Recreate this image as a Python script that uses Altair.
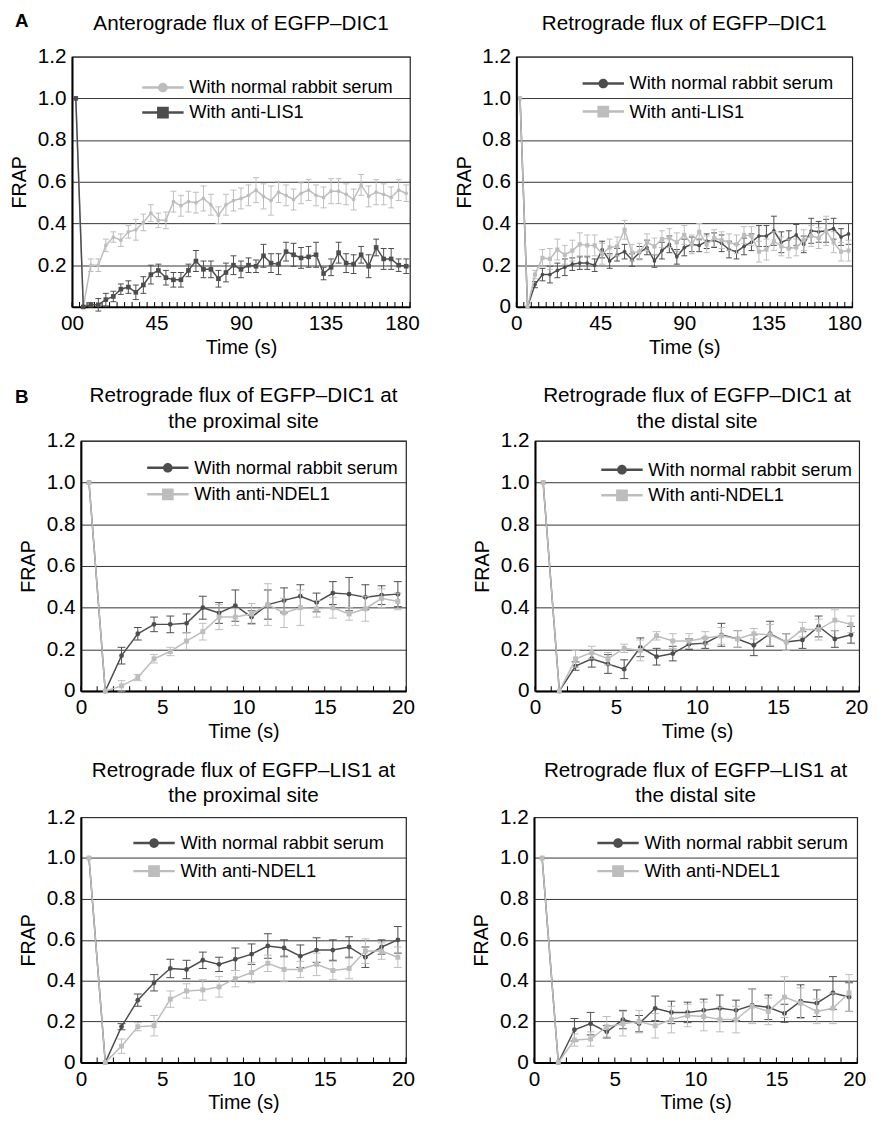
import altair as alt
import pandas as pd

FONT = "Liberation Sans"
DARK = "#4d4d4d"
LIGHT = "#bdbdbd"

SERUM = "With normal rabbit serum"
LIS1 = "With anti-LIS1"
NDEL1 = "With anti-NDEL1"

Y_TICKS = [0, 0.2, 0.4, 0.6, 0.8, 1.0, 1.2]

# ---------------- Panel A (time in s) ----------------
A_TIME = [2, 6, 10, 14, 18, 22, 26, 30, 34, 38, 42, 46, 50, 54, 58, 62, 66, 70, 74, 78,
          82, 86, 90, 94, 98, 102, 106, 110, 114, 118, 122, 126, 130, 134, 138, 142, 146,
          150, 154, 158, 162, 166, 170, 174, 178]
A_LABELS = [0, 45, 90, 135, 180]
A_MINOR = [0, 4, 8, 12, 16, 20, 24, 28, 32, 36, 40, 44, 48, 52, 56, 60, 64, 68, 72, 76, 80,
           84, 88, 92, 96, 100, 104, 108, 112, 116, 120, 124, 128, 132, 136, 140, 144, 148,
           152, 156, 160, 164, 168, 172, 176, 180]

# Anterograde EGFP-DIC1
A1_SERUM = [1.0, 0.0, 0.20, 0.20, 0.295, 0.335, 0.32, 0.36, 0.37, 0.405, 0.45, 0.415, 0.415,
            0.505, 0.485, 0.505, 0.50, 0.52, 0.49, 0.44, 0.49, 0.51, 0.52, 0.535, 0.56, 0.53,
            0.51, 0.55, 0.535, 0.515, 0.545, 0.56, 0.535, 0.525, 0.555, 0.555, 0.54, 0.515,
            0.585, 0.53, 0.55, 0.54, 0.525, 0.56, 0.545]
A1_SERUM_ERR = [0, 0, 0.03, 0.03, 0.03, 0.025, 0.03, 0.03, 0.05, 0.04, 0.04, 0.035, 0.04,
                0.05, 0.05, 0.05, 0.05, 0.06, 0.05, 0.04, 0.05, 0.05, 0.05, 0.05, 0.06, 0.06,
                0.07, 0.05, 0.05, 0.05, 0.05, 0.05, 0.05, 0.05, 0.06, 0.06, 0.05, 0.05, 0.05,
                0.05, 0.06, 0.05, 0.05, 0.05, 0.04]
A1_LIS1 = [1.0, 0.0, 0.01, 0.01, 0.035, 0.05, 0.085, 0.095, 0.07, 0.105, 0.155, 0.175, 0.14,
           0.13, 0.13, 0.175, 0.22, 0.18, 0.18, 0.135, 0.165, 0.20, 0.18, 0.20, 0.195, 0.245,
           0.21, 0.205, 0.265, 0.25, 0.235, 0.24, 0.25, 0.16, 0.19, 0.26, 0.21, 0.205, 0.25,
           0.195, 0.285, 0.23, 0.23, 0.20, 0.195]
A1_LIS1_ERR = [0, 0, 0.01, 0.03, 0.03, 0.025, 0.025, 0.03, 0.035, 0.04, 0.045, 0.03, 0.035,
               0.035, 0.035, 0.03, 0.05, 0.04, 0.04, 0.04, 0.045, 0.045, 0.04, 0.035, 0.03,
               0.055, 0.045, 0.05, 0.045, 0.055, 0.05, 0.05, 0.06, 0.03, 0.04, 0.05, 0.045,
               0.045, 0.04, 0.055, 0.04, 0.05, 0.05, 0.03, 0.035]

# Retrograde EGFP-DIC1
A2_SERUM = [1.0, 0.0, 0.107, 0.155, 0.155, 0.175, 0.19, 0.205, 0.21, 0.21, 0.20, 0.275, 0.22,
            0.25, 0.265, 0.225, 0.26, 0.285, 0.22, 0.27, 0.30, 0.24, 0.285, 0.30, 0.295, 0.315,
            0.32, 0.305, 0.275, 0.265, 0.29, 0.31, 0.34, 0.34, 0.365, 0.31, 0.325, 0.345, 0.30,
            0.365, 0.36, 0.365, 0.375, 0.335, 0.35]
A2_SERUM_ERR = [0, 0, 0.015, 0.03, 0.04, 0.035, 0.04, 0.03, 0.03, 0.03, 0.03, 0.04, 0.035,
                0.03, 0.035, 0.03, 0.03, 0.035, 0.03, 0.04, 0.04, 0.035, 0.04, 0.035, 0.03,
                0.035, 0.035, 0.04, 0.04, 0.035, 0.04, 0.04, 0.05, 0.05, 0.07, 0.05, 0.04,
                0.05, 0.04, 0.06, 0.05, 0.055, 0.05, 0.04, 0.05]
A2_LIS1 = [1.0, 0.0, 0.155, 0.235, 0.23, 0.275, 0.25, 0.27, 0.30, 0.295, 0.295, 0.255, 0.285,
           0.29, 0.37, 0.26, 0.265, 0.31, 0.29, 0.325, 0.33, 0.31, 0.345, 0.30, 0.36, 0.30,
           0.33, 0.32, 0.31, 0.30, 0.345, 0.34, 0.265, 0.275, 0.315, 0.29, 0.28, 0.285, 0.32,
           0.34, 0.33, 0.365, 0.31, 0.265, 0.27]
A2_LIS1_ERR = [0, 0, 0.02, 0.04, 0.05, 0.05, 0.045, 0.05, 0.055, 0.05, 0.05, 0.05, 0.04,
               0.045, 0.045, 0.04, 0.04, 0.04, 0.04, 0.04, 0.045, 0.045, 0.045, 0.045, 0.04,
               0.04, 0.04, 0.04, 0.04, 0.045, 0.04, 0.045, 0.05, 0.05, 0.045, 0.045, 0.045,
               0.04, 0.05, 0.05, 0.05, 0.07, 0.05, 0.045, 0.05]

# ---------------- Panel B (time in s) ----------------
B_TIME = [0.5, 1.5, 2.5, 3.5, 4.5, 5.5, 6.5, 7.5, 8.5, 9.5, 10.5, 11.5, 12.5, 13.5, 14.5,
          15.5, 16.5, 17.5, 18.5, 19.5]
B_LABELS = [0, 5, 10, 15, 20]
B_MINOR = [0, 1, 2, 3, 4, 5, 6, 7, 8, 9, 10, 11, 12, 13, 14, 15, 16, 17, 18, 19, 20]

# DIC1 proximal
B1_SERUM = [1.0, 0.0, 0.17, 0.275, 0.32, 0.32, 0.325, 0.40, 0.375, 0.41, 0.355, 0.415, 0.435,
            0.455, 0.425, 0.47, 0.465, 0.45, 0.46, 0.465]
B1_SERUM_ERR = [0, 0, 0.04, 0.03, 0.035, 0.04, 0.045, 0.055, 0.05, 0.075, 0.03, 0.07, 0.06,
                0.055, 0.045, 0.055, 0.08, 0.06, 0.045, 0.06]
B1_NDEL1 = [1.0, 0.0, 0.025, 0.065, 0.155, 0.19, 0.24, 0.285, 0.355, 0.355, 0.37, 0.415,
            0.375, 0.40, 0.395, 0.40, 0.37, 0.395, 0.445, 0.43]
B1_NDEL1_ERR = [0, 0, 0.025, 0.015, 0.02, 0.02, 0.04, 0.04, 0.06, 0.04, 0.05, 0.1, 0.07,
                0.085, 0.04, 0.05, 0.03, 0.06, 0.045, 0.04]

# DIC1 distal
B2_SERUM = [1.0, 0.0, 0.12, 0.155, 0.13, 0.105, 0.21, 0.165, 0.18, 0.225, 0.23, 0.27, 0.25,
            0.22, 0.275, 0.235, 0.245, 0.31, 0.25, 0.27]
B2_SERUM_ERR = [0, 0, 0.02, 0.04, 0.045, 0.045, 0.045, 0.04, 0.035, 0.025, 0.025, 0.055, 0.04,
                0.05, 0.06, 0.04, 0.04, 0.05, 0.04, 0.04]
B2_NDEL1 = [1.0, 0.0, 0.155, 0.185, 0.155, 0.205, 0.195, 0.265, 0.24, 0.24, 0.255, 0.265, 0.25,
            0.275, 0.27, 0.235, 0.295, 0.295, 0.34, 0.32]
B2_NDEL1_ERR = [0, 0, 0.04, 0.03, 0.03, 0.02, 0.05, 0.02, 0.035, 0.035, 0.03, 0.04, 0.04,
                0.025, 0.05, 0.04, 0.035, 0.05, 0.05, 0.04]

# LIS1 proximal
B3_SERUM = [1.0, 0.0, 0.175, 0.305, 0.39, 0.46, 0.455, 0.50, 0.48, 0.505, 0.53, 0.57, 0.56,
            0.52, 0.55, 0.55, 0.565, 0.515, 0.565, 0.60]
B3_SERUM_ERR = [0, 0, 0.015, 0.03, 0.04, 0.045, 0.045, 0.04, 0.035, 0.055, 0.05, 0.06, 0.04,
                0.055, 0.06, 0.05, 0.05, 0.05, 0.035, 0.065]
B3_NDEL1 = [1.0, 0.0, 0.08, 0.175, 0.18, 0.31, 0.35, 0.355, 0.37, 0.41, 0.44, 0.485, 0.455,
            0.455, 0.48, 0.45, 0.46, 0.545, 0.545, 0.515]
B3_NDEL1_ERR = [0, 0, 0.035, 0.02, 0.05, 0.04, 0.035, 0.05, 0.05, 0.04, 0.05, 0.04, 0.06,
                0.04, 0.055, 0.045, 0.05, 0.06, 0.04, 0.05]

# LIS1 distal
B4_SERUM = [1.0, 0.0, 0.16, 0.19, 0.15, 0.21, 0.19, 0.265, 0.245, 0.245, 0.255, 0.265, 0.255,
            0.28, 0.27, 0.24, 0.30, 0.29, 0.34, 0.32]
B4_SERUM_ERR = [0, 0, 0.055, 0.055, 0.03, 0.045, 0.04, 0.06, 0.055, 0.05, 0.055, 0.065, 0.05,
                0.08, 0.06, 0.045, 0.08, 0.065, 0.08, 0.07]
B4_NDEL1 = [1.0, 0.0, 0.11, 0.115, 0.175, 0.19, 0.20, 0.18, 0.21, 0.23, 0.225, 0.21, 0.21,
            0.275, 0.25, 0.32, 0.29, 0.25, 0.265, 0.34]
B4_NDEL1_ERR = [0, 0, 0.03, 0.035, 0.05, 0.06, 0.055, 0.06, 0.065, 0.055, 0.07, 0.06, 0.065,
                0.085, 0.065, 0.1, 0.075, 0.06, 0.075, 0.09]

# legend symbols: line segment with a marker in the middle
SYM_LINE = "M-3,-0.18H3V0.18H-3Z"
SYM_CIRCLE = SYM_LINE + "M0.7,0A0.7,0.7,0,1,1,-0.7,0A0.7,0.7,0,1,1,0.7,0Z"
SYM_SQUARE = SYM_LINE + "M-0.85,-0.85H0.85V0.85H-0.85Z"


def make_df(time, name, vals, errs):
    df = pd.DataFrame({"t": time, "v": vals, "e": errs})
    df["series"] = name
    df["lo"] = df["v"] - df["e"]
    df["hi"] = df["v"] + df["e"]
    return df


def panel(title_lines, title_offset, time, legend_names, legend_colors, legend_shapes,
          draw, width, height, xmax, xlabels, xminor, leg, zero_labels=True,
          cap=6, last_shift=0):
    df = pd.concat([make_df(time, d[0], d[1], d[2]) for d in draw], ignore_index=True)
    xs = alt.Scale(domain=[0, xmax], nice=False, zero=False)
    ys = alt.Scale(domain=[0, 1.2], nice=False, zero=False)
    if zero_labels:
        ylab = "datum.value == 0 ? '0' : format(datum.value, '.1f')"
        xlab = "datum.label"
    else:
        ylab = "datum.value == 0 ? '' : format(datum.value, '.1f')"
        xlab = "datum.value == 0 ? '00' : datum.label"
    x_main = alt.Axis(values=xlabels, title="Time (s)", ticks=False, tickSize=0,
                      labelPadding=6, labelFontSize=21, titleFontSize=20, titlePadding=4,
                      titleFontWeight="normal", domainColor="black", domainWidth=2,
                      grid=False, labelExpr=xlab, labelColor="black", titleColor="black",
                      labelFont=FONT, titleFont=FONT, labelOverlap=False, labelFlush=False,
                      labelOffset={"condition": {"test": "datum.value == %s" % xmax,
                                                 "value": last_shift}, "value": 0})
    y_main = alt.Axis(values=Y_TICKS, title="FRAP", ticks=False, tickSize=0,
                      labelPadding=6, labelFontSize=21, titleFontSize=20, titlePadding=8,
                      minExtent=35, maxExtent=35, titleFontWeight="normal",
                      domainColor="black", domainWidth=2, grid=True, gridColor="#333333",
                      gridWidth=1, labelExpr=ylab, labelColor="black", titleColor="black",
                      labelFont=FONT, titleFont=FONT, labelOverlap=False)
    legend = alt.Legend(orient="none", legendX=leg[0], legendY=leg[1], direction="vertical",
                        title=None, labelFont=FONT, labelFontSize=18.5, labelColor="black",
                        symbolSize=196, symbolStrokeWidth=0, symbolOffset=12,
                        labelOffset=17.5, rowPadding=leg[2], padding=0, labelLimit=400)
    base = alt.Chart(df)
    empty = base.transform_filter("false")
    minor = alt.Chart(pd.DataFrame({"m": xminor}))
    layers = [
        empty.mark_point(filled=True, opacity=1, size=196).encode(
            x=alt.X("t:Q", scale=xs, axis=x_main),
            y=alt.Y("v:Q", scale=ys, axis=y_main),
            color=alt.Color("series:N",
                            scale=alt.Scale(domain=legend_names, range=legend_colors),
                            legend=legend),
            shape=alt.Shape("series:N",
                            scale=alt.Scale(domain=legend_names, range=legend_shapes),
                            legend=legend),
        ),
        # small inward tick marks along the time axis
        minor.mark_tick(orient="vertical", size=5, thickness=1, color="black",
                        opacity=1).encode(
            x=alt.X("m:Q", scale=xs, axis=None),
            y=alt.value(height - 2.5),
        ),
    ]
    for name, vals, errs, color, shape, size in draw:
        sub = base.transform_filter(alt.datum.series == name)
        bars = sub.transform_filter("datum.e > 0")
        X = alt.X("t:Q", scale=xs, axis=None)
        layers += [
            bars.mark_rule(color=color, strokeWidth=1).encode(
                x=X, y=alt.Y("lo:Q", scale=ys, axis=None), y2="hi:Q"),
            bars.mark_tick(color=color, orient="horizontal", size=cap, thickness=1,
                           opacity=1).encode(
                x=X, y=alt.Y("lo:Q", scale=ys, axis=None)),
            bars.mark_tick(color=color, orient="horizontal", size=cap, thickness=1,
                           opacity=1).encode(
                x=X, y=alt.Y("hi:Q", scale=ys, axis=None)),
            sub.mark_line(color=color, strokeWidth=1.5).encode(
                x=X, y=alt.Y("v:Q", scale=ys, axis=None)),
            sub.mark_point(filled=True, opacity=1, shape=shape, size=size,
                           color=color).encode(
                x=X, y=alt.Y("v:Q", scale=ys, axis=None)),
        ]
    return alt.layer(*layers).properties(
        width=width, height=height,
        title=alt.TitleParams(text=title_lines, fontSize=21, fontWeight="normal", font=FONT,
                              color="black", anchor="middle", frame="group",
                              offset=title_offset, lineHeight=25.6),
    ).resolve_axis(x="independent", y="independent")


pA1 = panel(["Anterograde flux of EGFP\u2013DIC1"], 12, A_TIME,
            [SERUM, LIS1], [LIGHT, DARK], [SYM_CIRCLE, SYM_SQUARE],
            [(SERUM, A1_SERUM, A1_SERUM_ERR, LIGHT, "circle", 14),
             (LIS1, A1_LIS1, A1_LIS1_ERR, DARK, "square", 22)],
            343, 254, 180, A_LABELS, A_MINOR, (71, 22, 6.5), zero_labels=False, cap=6,
            last_shift=-8)
pA2 = panel(["Retrograde flux of EGFP\u2013DIC1"], 12, A_TIME,
            [SERUM, LIS1], [DARK, LIGHT], [SYM_CIRCLE, SYM_SQUARE],
            [(SERUM, A2_SERUM, A2_SERUM_ERR, DARK, "circle", 14),
             (LIS1, A2_LIS1, A2_LIS1_ERR, LIGHT, "square", 18)],
            341, 254, 180, A_LABELS, A_MINOR, (67, 18, 9.5), cap=6, last_shift=-8)

pB1 = panel(["Retrograde flux of EGFP\u2013DIC1 at", "the proximal site"], -1.5, B_TIME,
            [SERUM, NDEL1], [DARK, LIGHT], [SYM_CIRCLE, SYM_SQUARE],
            [(SERUM, B1_SERUM, B1_SERUM_ERR, DARK, "circle", 24),
             (NDEL1, B1_NDEL1, B1_NDEL1_ERR, LIGHT, "square", 25)],
            330, 254, 20, B_LABELS, B_MINOR, (67, 18, 8), cap=8, last_shift=-3)
pB2 = panel(["Retrograde flux of EGFP\u2013DIC1 at", "the distal site"], -1.5, B_TIME,
            [SERUM, NDEL1], [DARK, LIGHT], [SYM_CIRCLE, SYM_SQUARE],
            [(SERUM, B2_SERUM, B2_SERUM_ERR, DARK, "circle", 24),
             (NDEL1, B2_NDEL1, B2_NDEL1_ERR, LIGHT, "square", 25)],
            329, 254, 20, B_LABELS, B_MINOR, (67, 20, 7), cap=8, last_shift=-3)
pB3 = panel(["Retrograde flux of EGFP\u2013LIS1 at", "the proximal site"], 0.5, B_TIME,
            [SERUM, NDEL1], [DARK, LIGHT], [SYM_CIRCLE, SYM_SQUARE],
            [(SERUM, B3_SERUM, B3_SERUM_ERR, DARK, "circle", 24),
             (NDEL1, B3_NDEL1, B3_NDEL1_ERR, LIGHT, "square", 25)],
            330, 249, 20, B_LABELS, B_MINOR, (53, 17, 9.5), cap=8, last_shift=-3)
pB4 = panel(["Retrograde flux of EGFP\u2013LIS1 at", "the distal site"], 0.5, B_TIME,
            [SERUM, NDEL1], [DARK, LIGHT], [SYM_CIRCLE, SYM_SQUARE],
            [(SERUM, B4_SERUM, B4_SERUM_ERR, DARK, "circle", 24),
             (NDEL1, B4_NDEL1, B4_NDEL1_ERR, LIGHT, "square", 25)],
            328, 249, 20, B_LABELS, B_MINOR, (64, 17, 9.5), cap=8, last_shift=-3)

IND = dict(color="independent", shape="independent")


def spacer():
    # empty 1x1 view used only to anchor each row's left edge
    return alt.Chart(pd.DataFrame({"d": [0]})).transform_filter("false").mark_point(
        opacity=0).properties(width=1, height=1,
                              view=alt.ViewBackground(strokeWidth=0, stroke="transparent"))


def letter(text, offset):
    return alt.TitleParams(text=text, anchor="start", fontSize=19, fontWeight="bold",
                           font=FONT, color="black", offset=offset, dx=7)


row1 = alt.hconcat(
    spacer(), alt.hconcat(pA1, pA2, spacing=33).resolve_scale(**IND), spacing=0
).resolve_scale(**IND).properties(title=letter("A", -18))
row2 = alt.hconcat(
    spacer(), alt.hconcat(pB1, pB2, spacing=57).resolve_scale(**IND), spacing=9
).resolve_scale(**IND)
row3 = alt.hconcat(
    spacer(), alt.hconcat(pB3, pB4, spacing=56).resolve_scale(**IND), spacing=9
).resolve_scale(**IND)
blockB = alt.vconcat(row2, row3, spacing=17).resolve_scale(**IND).properties(
    title=letter("B", -22))

chart = alt.vconcat(row1, blockB, spacing=27).resolve_scale(**IND).properties(
    padding={"left": 0, "top": -5, "right": 0, "bottom": 0},
    background="white",
).configure(font=FONT).configure_view(stroke="#222222", strokeWidth=1.2)

chart.save("out.html", embed_options={"renderer": "svg", "actions": False})
